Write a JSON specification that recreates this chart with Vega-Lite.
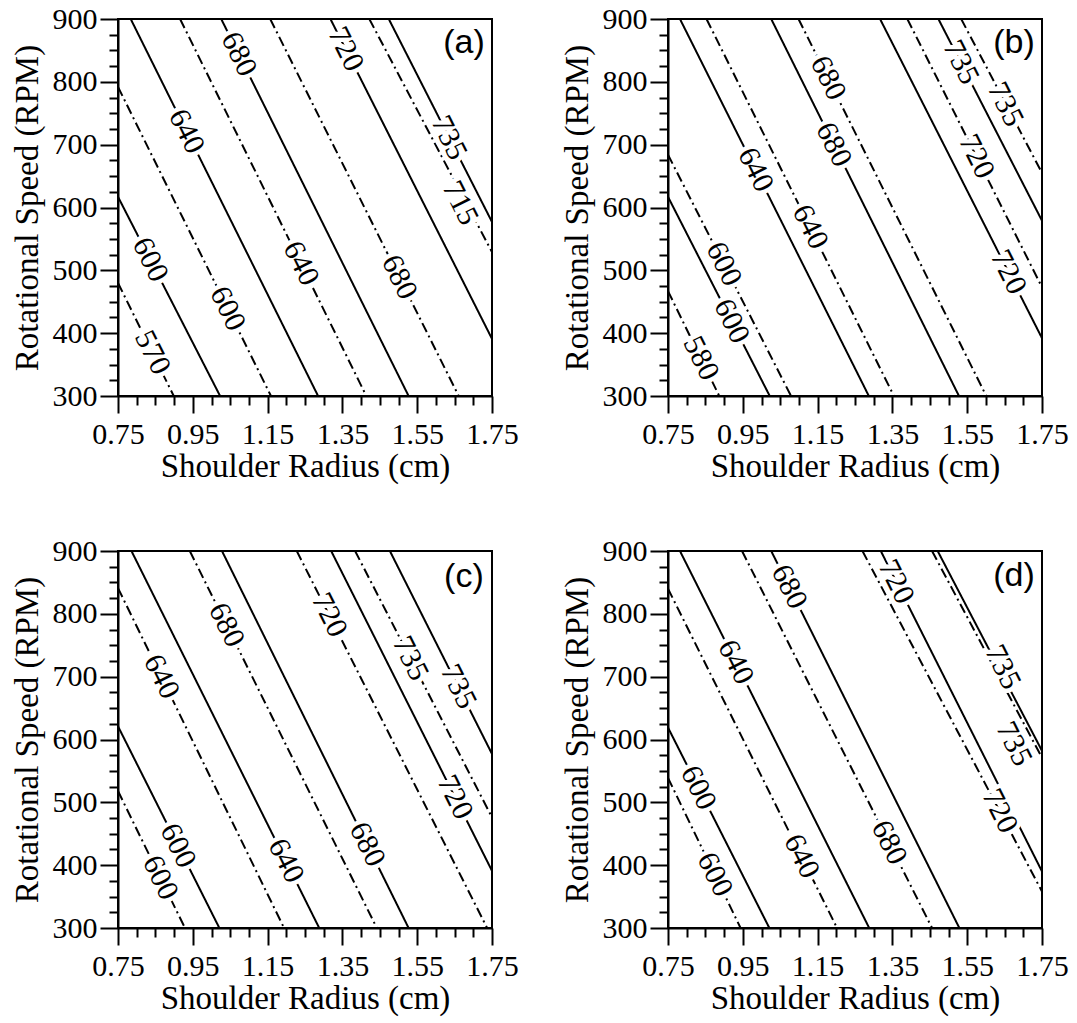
{
"$schema": "https://vega.github.io/schema/vega-lite/v6.json",
"background": "white",
"padding": {"left": 10, "top": 3, "right": 5, "bottom": 5},
"data": {"values": [
{"p":"a","k":"L","id":"a1","s":"d","r":0.75,"n":480},{"p":"a","k":"L","id":"a1","s":"d","r":0.899,"n":300},
{"p":"a","k":"L","id":"a2","s":"s","r":0.75,"n":617},{"p":"a","k":"L","id":"a2","s":"s","r":1.023,"n":300},
{"p":"a","k":"L","id":"a3","s":"d","r":0.75,"n":792},{"p":"a","k":"L","id":"a3","s":"d","r":1.159,"n":300},
{"p":"a","k":"L","id":"a4","s":"s","r":0.784,"n":900},{"p":"a","k":"L","id":"a4","s":"s","r":1.285,"n":300},
{"p":"a","k":"L","id":"a5","s":"d","r":0.916,"n":900},{"p":"a","k":"L","id":"a5","s":"d","r":1.414,"n":300},
{"p":"a","k":"L","id":"a6","s":"s","r":1.026,"n":900},{"p":"a","k":"L","id":"a6","s":"s","r":1.527,"n":300},
{"p":"a","k":"L","id":"a7","s":"d","r":1.157,"n":900},{"p":"a","k":"L","id":"a7","s":"d","r":1.661,"n":300},
{"p":"a","k":"L","id":"a8","s":"s","r":1.318,"n":900},{"p":"a","k":"L","id":"a8","s":"s","r":1.75,"n":391},
{"p":"a","k":"L","id":"a9","s":"d","r":1.422,"n":900},{"p":"a","k":"L","id":"a9","s":"d","r":1.75,"n":529},
{"p":"a","k":"L","id":"a10","s":"s","r":1.474,"n":900},{"p":"a","k":"L","id":"a10","s":"s","r":1.75,"n":577},
{"p":"a","k":"T","v":"570","r":0.842,"n":369},{"p":"a","k":"T","v":"600","r":0.836,"n":517},{"p":"a","k":"T","v":"600","r":1.043,"n":439},
{"p":"a","k":"T","v":"640","r":0.933,"n":721},{"p":"a","k":"T","v":"640","r":1.239,"n":511},{"p":"a","k":"T","v":"680","r":1.073,"n":844},
{"p":"a","k":"T","v":"680","r":1.502,"n":489},{"p":"a","k":"T","v":"720","r":1.359,"n":852},{"p":"a","k":"T","v":"715","r":1.665,"n":607},
{"p":"a","k":"T","v":"735","r":1.635,"n":711},
{"p":"a","k":"G","v":"(a)","r":1.675,"n":862},
{"p":"b","k":"L","id":"b1","s":"d","r":0.75,"n":467},{"p":"b","k":"L","id":"b1","s":"d","r":0.887,"n":300},
{"p":"b","k":"L","id":"b2","s":"s","r":0.75,"n":617},{"p":"b","k":"L","id":"b2","s":"s","r":1.022,"n":300},
{"p":"b","k":"L","id":"b3","s":"d","r":0.75,"n":684},{"p":"b","k":"L","id":"b3","s":"d","r":1.079,"n":300},
{"p":"b","k":"L","id":"b4","s":"s","r":0.782,"n":900},{"p":"b","k":"L","id":"b4","s":"s","r":1.287,"n":300},
{"p":"b","k":"L","id":"b5","s":"d","r":0.853,"n":900},{"p":"b","k":"L","id":"b5","s":"d","r":1.354,"n":300},
{"p":"b","k":"L","id":"b6","s":"s","r":1.026,"n":900},{"p":"b","k":"L","id":"b6","s":"s","r":1.528,"n":300},
{"p":"b","k":"L","id":"b7","s":"d","r":1.099,"n":900},{"p":"b","k":"L","id":"b7","s":"d","r":1.601,"n":300},
{"p":"b","k":"L","id":"b8","s":"s","r":1.317,"n":900},{"p":"b","k":"L","id":"b8","s":"s","r":1.75,"n":392},
{"p":"b","k":"L","id":"b9","s":"d","r":1.39,"n":900},{"p":"b","k":"L","id":"b9","s":"d","r":1.75,"n":473},
{"p":"b","k":"L","id":"b10","s":"s","r":1.473,"n":900},{"p":"b","k":"L","id":"b10","s":"s","r":1.75,"n":579},
{"p":"b","k":"L","id":"b11","s":"d","r":1.534,"n":900},{"p":"b","k":"L","id":"b11","s":"d","r":1.75,"n":655},
{"p":"b","k":"T","v":"580","r":0.838,"n":360},{"p":"b","k":"T","v":"600","r":0.92,"n":419},{"p":"b","k":"T","v":"600","r":0.899,"n":510},
{"p":"b","k":"T","v":"640","r":0.984,"n":660},{"p":"b","k":"T","v":"640","r":1.13,"n":569},{"p":"b","k":"T","v":"680","r":1.193,"n":700},
{"p":"b","k":"T","v":"680","r":1.178,"n":806},{"p":"b","k":"T","v":"720","r":1.66,"n":497},{"p":"b","k":"T","v":"720","r":1.575,"n":681},
{"p":"b","k":"T","v":"735","r":1.533,"n":831},{"p":"b","k":"T","v":"735","r":1.652,"n":764},
{"p":"b","k":"G","v":"(b)","r":1.675,"n":862},
{"p":"c","k":"L","id":"c1","s":"d","r":0.75,"n":518},{"p":"c","k":"L","id":"c1","s":"d","r":0.929,"n":300},
{"p":"c","k":"L","id":"c2","s":"s","r":0.75,"n":621},{"p":"c","k":"L","id":"c2","s":"s","r":1.021,"n":300},
{"p":"c","k":"L","id":"c3","s":"d","r":0.75,"n":841},{"p":"c","k":"L","id":"c3","s":"d","r":1.194,"n":300},
{"p":"c","k":"L","id":"c4","s":"s","r":0.786,"n":900},{"p":"c","k":"L","id":"c4","s":"s","r":1.288,"n":300},
{"p":"c","k":"L","id":"c5","s":"d","r":0.942,"n":900},{"p":"c","k":"L","id":"c5","s":"d","r":1.442,"n":300},
{"p":"c","k":"L","id":"c6","s":"s","r":1.028,"n":900},{"p":"c","k":"L","id":"c6","s":"s","r":1.527,"n":300},
{"p":"c","k":"L","id":"c7","s":"d","r":1.228,"n":900},{"p":"c","k":"L","id":"c7","s":"d","r":1.737,"n":300},
{"p":"c","k":"L","id":"c8","s":"s","r":1.32,"n":900},{"p":"c","k":"L","id":"c8","s":"s","r":1.75,"n":391},
{"p":"c","k":"L","id":"c9","s":"d","r":1.384,"n":900},{"p":"c","k":"L","id":"c9","s":"d","r":1.75,"n":476},
{"p":"c","k":"L","id":"c10","s":"s","r":1.477,"n":900},{"p":"c","k":"L","id":"c10","s":"s","r":1.75,"n":577},
{"p":"c","k":"T","v":"600","r":0.863,"n":380},{"p":"c","k":"T","v":"600","r":0.91,"n":431},{"p":"c","k":"T","v":"640","r":0.866,"n":700},
{"p":"c","k":"T","v":"640","r":1.199,"n":407},{"p":"c","k":"T","v":"680","r":1.04,"n":782},{"p":"c","k":"T","v":"680","r":1.416,"n":433},
{"p":"c","k":"T","v":"720","r":1.315,"n":798},{"p":"c","k":"T","v":"720","r":1.651,"n":508},{"p":"c","k":"T","v":"735","r":1.532,"n":729},
{"p":"c","k":"T","v":"735","r":1.66,"n":684},
{"p":"c","k":"G","v":"(c)","r":1.675,"n":858},
{"p":"d","k":"L","id":"d1","s":"d","r":0.75,"n":539},{"p":"d","k":"L","id":"d1","s":"d","r":0.944,"n":300},
{"p":"d","k":"L","id":"d2","s":"s","r":0.75,"n":619},{"p":"d","k":"L","id":"d2","s":"s","r":1.021,"n":300},
{"p":"d","k":"L","id":"d3","s":"d","r":0.75,"n":840},{"p":"d","k":"L","id":"d3","s":"d","r":1.202,"n":300},
{"p":"d","k":"L","id":"d4","s":"s","r":0.782,"n":900},{"p":"d","k":"L","id":"d4","s":"s","r":1.288,"n":300},
{"p":"d","k":"L","id":"d5","s":"d","r":0.948,"n":900},{"p":"d","k":"L","id":"d5","s":"d","r":1.456,"n":300},
{"p":"d","k":"L","id":"d6","s":"s","r":1.026,"n":900},{"p":"d","k":"L","id":"d6","s":"s","r":1.529,"n":300},
{"p":"d","k":"L","id":"d7","s":"d","r":1.27,"n":900},{"p":"d","k":"L","id":"d7","s":"d","r":1.75,"n":358},
{"p":"d","k":"L","id":"d8","s":"s","r":1.319,"n":900},{"p":"d","k":"L","id":"d8","s":"s","r":1.75,"n":390},
{"p":"d","k":"L","id":"d9","s":"d","r":1.456,"n":900},{"p":"d","k":"L","id":"d9","s":"d","r":1.75,"n":571},
{"p":"d","k":"L","id":"d10","s":"s","r":1.471,"n":900},{"p":"d","k":"L","id":"d10","s":"s","r":1.75,"n":582},
{"p":"d","k":"T","v":"600","r":0.875,"n":385},{"p":"d","k":"T","v":"600","r":0.831,"n":523},{"p":"d","k":"T","v":"640","r":1.107,"n":414},
{"p":"d","k":"T","v":"640","r":0.931,"n":723},{"p":"d","k":"T","v":"680","r":1.341,"n":436},{"p":"d","k":"T","v":"680","r":1.074,"n":843},
{"p":"d","k":"T","v":"720","r":1.637,"n":486},{"p":"d","k":"T","v":"720","r":1.36,"n":851},{"p":"d","k":"T","v":"735","r":1.645,"n":715},
{"p":"d","k":"T","v":"735","r":1.675,"n":593},
{"p":"d","k":"G","v":"(d)","r":1.675,"n":860}
]},
"facet": {"field": "p", "type": "nominal", "title": null, "header": {"labels": false, "labelExpr": "''", "labelFontSize": 0, "labelPadding": 0, "title": null, "titlePadding": 0}},
"columns": 2,
"spacing": {"row": 51, "column": 40},
"resolve": {"axis": {"x": "independent", "y": "independent"}},
"spec": {
  "width": 374,
  "height": 377,
  "resolve": {"axis": {"x": "independent", "y": "independent"}},
  "layer": [
    {
      "transform": [{"filter": "datum.k === 'L'"}],
      "mark": {"type": "line", "stroke": "black", "strokeWidth": 2, "clip": true},
      "encoding": {
        "x": {"field": "r", "type": "quantitative", "scale": {"domain": [0.75, 1.75], "nice": false, "zero": false},
              "axis": {"orient": "bottom", "values": [0.75, 0.95, 1.15, 1.35, 1.55, 1.75], "format": ".2f", "tickSize": 17, "labelPadding": 6, "title": "Shoulder Radius (cm)", "titlePadding": 1}},
        "y": {"field": "n", "type": "quantitative", "scale": {"domain": [300, 900], "nice": false, "zero": false},
              "axis": {"orient": "left", "values": [300, 400, 500, 600, 700, 800, 900], "tickSize": 18, "labelPadding": 3, "title": "Rotational Speed (RPM)", "titlePadding": 8}},
        "detail": {"field": "id", "type": "nominal"},
        "strokeDash": {"field": "s", "type": "nominal", "scale": {"domain": ["s", "d"], "range": [[1, 0], [10, 4, 2, 4]]}, "legend": null}
      }
    },
    {
      "transform": [{"filter": "datum.k === 'T'"}],
      "mark": {"type": "text", "angle": 63.5, "font": "Liberation Serif, Times New Roman, serif", "fontSize": 30, "fill": "white", "stroke": "white", "strokeWidth": 9, "align": "center", "baseline": "middle"},
      "encoding": {
        "x": {"field": "r", "type": "quantitative", "axis": {"orient": "bottom", "values": [0.8, 0.85, 0.9, 1.0, 1.05, 1.1, 1.2, 1.25, 1.3, 1.4, 1.45, 1.5, 1.6, 1.65, 1.7], "tickSize": 9, "labels": false, "domain": false, "title": null}},
        "y": {"field": "n", "type": "quantitative", "axis": {"orient": "left", "values": [325, 350, 375, 425, 450, 475, 525, 550, 575, 625, 650, 675, 725, 750, 775, 825, 850, 875], "tickSize": 9, "labels": false, "domain": false, "title": null}},
        "text": {"field": "v", "type": "nominal"}
      }
    },
    {
      "transform": [{"filter": "datum.k === 'T'"}],
      "mark": {"type": "text", "angle": 63.5, "font": "Liberation Serif, Times New Roman, serif", "fontSize": 30, "fill": "black", "align": "center", "baseline": "middle"},
      "encoding": {
        "x": {"field": "r", "type": "quantitative", "axis": null},
        "y": {"field": "n", "type": "quantitative", "axis": null},
        "text": {"field": "v", "type": "nominal"}
      }
    },
    {
      "transform": [{"filter": "datum.k === 'G'"}],
      "mark": {"type": "text", "font": "Liberation Sans, Arial, sans-serif", "fontSize": 34, "fill": "black", "align": "center", "baseline": "middle"},
      "encoding": {
        "x": {"field": "r", "type": "quantitative", "axis": null},
        "y": {"field": "n", "type": "quantitative", "axis": null},
        "text": {"field": "v", "type": "nominal"}
      }
    }
  ]
},
"config": {
  "view": {"stroke": "black", "strokeWidth": 2},
  "header": {"labels": false, "title": null, "labelPadding": 0},
  "headerFacet": {"labels": false, "title": null, "labelPadding": 0},
  "axis": {"tickColor": "black", "tickWidth": 2, "domainColor": "black", "domainWidth": 2, "labelColor": "black", "labelFont": "Liberation Serif, Times New Roman, serif", "labelFontSize": 30, "titleFont": "Liberation Serif, Times New Roman, serif", "titleFontSize": 33, "titleFontWeight": "normal", "titleColor": "black", "grid": false, "labelFlush": false, "labelOverlap": false, "labelBound": false}
}
}
